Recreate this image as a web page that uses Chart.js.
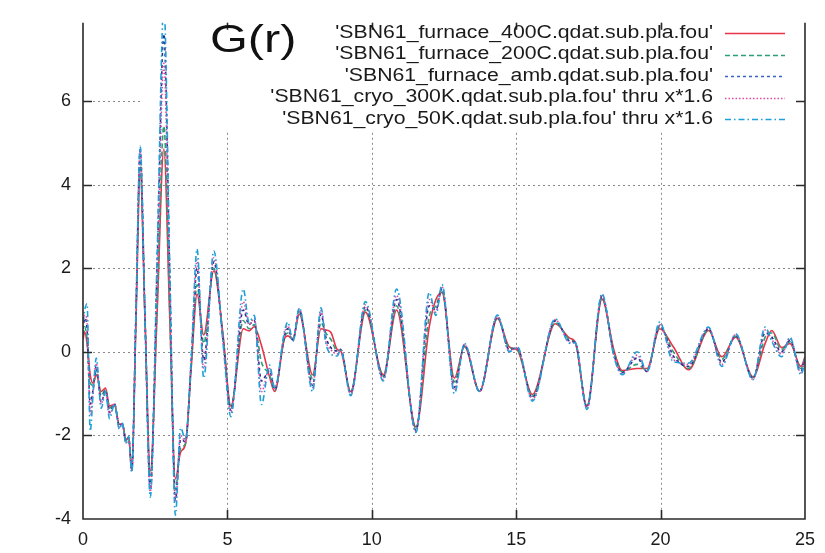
<!DOCTYPE html>
<html>
<head>
<meta charset="utf-8">
<script src="https://cdn.jsdelivr.net/npm/chart.js@4.4.0/dist/chart.umd.min.js"></script>
<style>
  html, body { margin: 0; padding: 0; background: #fff; }
  canvas { display: block; }
</style>
</head>
<body>
<canvas id="gr" width="825" height="553"></canvas>
<script>
// r values (shared by all five curves)
const rValues = [0.00,0.06,0.14,0.25,0.35,0.46,0.63,0.78,0.92,1.09,1.26,1.36,1.49,1.58,1.69,1.835,1.98,2.15,2.33,2.57,
  2.80,3.00,3.20,3.38,3.55,3.75,3.95,4.18,4.53,4.85,5.12,5.55,5.75,5.93,6.18,6.46,6.64,6.98,7.09,7.27,
  7.49,7.95,8.24,8.41,8.58,8.81,8.92,9.27,9.78,10.40,10.86,11.53,11.99,12.22,12.43,12.86,13.21,13.73,14.35,14.76,
  15.04,15.56,16.35,16.87,17.04,17.45,17.97,18.38,18.67,19.19,19.53,19.97,20.44,20.97,21.66,22.12,22.60,23.20,23.62,23.85,
  24.19,24.48,24.86,25.00];

const furnace400 = [0.30,0.48,0.20,-0.55,-0.75,-0.55,-0.95,-0.87,-1.30,-1.26,-1.74,-1.72,-2.10,-2.05,-2.80,0.74,4.28,0.70,-2.85,1.00,
  4.85,0.90,-3.04,-2.40,-2.20,-0.35,1.38,0.40,1.94,0.40,-1.30,0.55,0.50,0.60,0.15,-0.60,-0.95,0.32,0.38,0.30,
  0.90,-0.55,0.55,0.52,0.47,0.05,0.02,-0.95,0.95,-0.55,1.00,-1.80,0.60,1.25,1.42,-0.63,0.12,-0.94,0.80,0.12,
  0.04,-1.02,0.67,0.32,0.24,-1.30,1.26,0.05,-0.45,-0.40,-0.40,0.55,0.12,-0.43,0.51,-0.12,0.35,-0.60,0.20,0.51,
  0.10,0.20,-0.35,-0.12];

const furnace200 = [0.40,0.60,0.30,-0.75,-0.80,-0.45,-1.05,-0.90,-1.35,-1.25,-1.76,-1.72,-2.12,-2.05,-2.82,0.85,4.55,0.72,-3.10,1.15,
  5.40,1.05,-3.30,-2.30,-2.20,-0.30,1.60,0.20,2.00,0.35,-1.35,0.75,0.55,0.65,-0.25,-0.55,-0.92,0.35,0.45,0.30,
  0.95,-0.65,0.70,0.45,0.30,0.02,0.05,-0.97,1.00,-0.58,1.10,-1.84,0.85,1.10,1.48,-0.72,0.14,-0.94,0.82,0.10,
  0.05,-1.06,0.70,0.28,0.22,-1.32,1.30,0.00,-0.48,-0.30,-0.44,0.60,0.00,-0.40,0.53,-0.18,0.37,-0.62,0.35,0.45,
  0.05,0.24,-0.40,-0.15];

const furnaceAmb = [0.55,0.80,0.55,-1.25,-0.90,-0.35,-1.20,-0.93,-1.45,-1.25,-1.78,-1.72,-2.15,-2.05,-2.85,0.98,4.80,0.75,-3.30,2.15,
  7.60,2.00,-3.55,-2.10,-2.15,-0.20,2.00,-0.20,2.15,0.30,-1.40,1.00,0.65,0.75,-0.70,-0.45,-0.90,0.40,0.55,0.28,
  1.00,-0.80,0.90,0.35,0.10,0.02,0.06,-1.00,1.08,-0.62,1.25,-1.88,1.10,1.00,1.52,-0.85,0.16,-0.95,0.84,0.05,
  0.08,-1.10,0.74,0.25,0.22,-1.34,1.34,-0.05,-0.50,-0.15,-0.47,0.63,-0.10,-0.35,0.55,-0.25,0.39,-0.64,0.45,0.35,
  0.00,0.28,-0.45,-0.18];

const cryo300K = [0.60,0.88,0.75,-1.50,-0.92,-0.28,-1.25,-0.95,-1.50,-1.25,-1.80,-1.72,-2.18,-2.05,-2.86,1.00,4.85,0.75,-3.35,1.78,
  6.90,1.65,-3.60,-2.00,-2.15,-0.15,2.20,-0.40,2.25,0.25,-1.45,1.20,0.65,0.80,-0.95,-0.40,-0.88,0.45,0.62,0.27,
  1.02,-0.85,0.98,0.25,0.05,-0.05,0.06,-1.02,1.12,-0.66,1.35,-1.90,1.25,0.95,1.56,-0.92,0.18,-0.95,0.86,0.02,
  0.10,-1.14,0.77,0.22,0.22,-1.36,1.36,-0.08,-0.52,-0.08,-0.47,0.65,-0.18,-0.30,0.57,-0.30,0.41,-0.66,0.52,0.30,
  -0.05,0.32,-0.50,-0.20];

const cryo50K = [0.70,1.00,1.15,-1.90,-1.00,-0.15,-1.35,-0.95,-1.60,-1.25,-1.85,-1.70,-2.20,-2.02,-2.88,1.02,4.92,0.72,-3.48,2.40,
  8.30,2.20,-3.91,-1.82,-2.10,-0.10,2.46,-0.63,2.41,0.20,-1.55,1.50,0.70,0.87,-1.26,-0.32,-0.87,0.50,0.71,0.25,
  1.05,-0.95,1.05,0.20,-0.05,-0.10,0.05,-1.05,1.20,-0.70,1.50,-1.93,1.42,0.87,1.61,-1.00,0.20,-0.95,0.88,0.00,
  0.12,-1.18,0.79,0.20,0.22,-1.38,1.39,-0.10,-0.55,0.00,-0.47,0.71,-0.24,-0.27,0.59,-0.35,0.43,-0.67,0.59,0.25,
  -0.12,0.35,-0.55,-0.22];

const seriesLabels = [
  "'SBN61_furnace_400C.qdat.sub.pla.fou'",
  "'SBN61_furnace_200C.qdat.sub.pla.fou'",
  "'SBN61_furnace_amb.qdat.sub.pla.fou'",
  "'SBN61_cryo_300K.qdat.sub.pla.fou' thru x*1.6",
  "'SBN61_cryo_50K.qdat.sub.pla.fou' thru x*1.6"
];
const xTicks = [0, 5, 10, 15, 20, 25];
const yTicks = [-4, -2, 0, 2, 4, 6];
const titleText = "G(r)";

// line styles, gnuplot-ish
const lineColors = ["#e8334a", "#2e9e78", "#22308f", "#e04aa0", "#1fa0d8"];
const keyColors = ["#e8334a", "#2e9e78", "#3a62c8", "#e04aa0", "#1fa0d8"];
const lineDashes = [[], [5, 3], [3, 3], [1.5, 2], [6, 3, 1.5, 3]];

const FONT = "'Liberation Sans', Arial, Helvetica, sans-serif";

function pts(arr) {
  return rValues.map((r, i) => ({ x: r, y: arr[i] }));
}

function mkSet(i, arr) {
  return {
    label: seriesLabels[i],
    data: pts(arr),
    borderColor: lineColors[i],
    borderDash: lineDashes[i],
    borderWidth: 1.6,
    pointRadius: 0,
    fill: false,
    cubicInterpolationMode: "monotone",
    order: 5 - i
  };
}

// stretched text, the scan is a bit wider than the font
function wideText(ctx, txt, x, y, sx, align) {
  ctx.save();
  const w = ctx.measureText(txt).width * sx;
  let x0 = x;
  if (align === "right") x0 = x - w;
  ctx.translate(x0, y);
  ctx.scale(sx, 1);
  ctx.textAlign = "left";
  ctx.fillText(txt, 0, 0);
  ctx.restore();
}

const keyBox = { left: 140, bottom: 130 };

const gridPlugin = {
  id: "gnuGrid",
  beforeDatasetsDraw(chart) {
    const { ctx, chartArea: a, scales } = chart;
    ctx.save();
    ctx.beginPath();
    ctx.rect(a.left, a.top, a.right - a.left, a.bottom - a.top);
    ctx.rect(keyBox.left, 0, a.right - keyBox.left, keyBox.bottom);
    ctx.clip("evenodd");
    ctx.strokeStyle = "#8a8a8a";
    ctx.lineWidth = 1;
    ctx.setLineDash([2, 3]);
    xTicks.slice(1, -1).forEach(v => {
      const px = Math.round(scales.x.getPixelForValue(v)) + 0.5;
      ctx.beginPath(); ctx.moveTo(px, a.top); ctx.lineTo(px, a.bottom); ctx.stroke();
    });
    yTicks.slice(1).forEach(v => {
      const py = Math.round(scales.y.getPixelForValue(v)) + 0.5;
      ctx.beginPath(); ctx.moveTo(a.left, py); ctx.lineTo(a.right, py); ctx.stroke();
    });
    ctx.restore();
  },
  afterDatasetsDraw(chart) {
    const { ctx, chartArea: a, scales } = chart;
    ctx.save();
    ctx.strokeStyle = "#2a2a2a";
    ctx.lineWidth = 1.6;
    ctx.setLineDash([]);
    ctx.beginPath();
    ctx.moveTo(a.left, a.top); ctx.lineTo(a.left, a.bottom); ctx.lineTo(a.right, a.bottom); ctx.lineTo(a.right, a.top);
    ctx.stroke();
    const t = 9;
    ctx.beginPath();
    yTicks.slice(1).forEach(v => {
      const py = Math.round(scales.y.getPixelForValue(v)) + 0.5;
      ctx.moveTo(a.left, py); ctx.lineTo(a.left + t, py);
      ctx.moveTo(a.right, py); ctx.lineTo(a.right - t, py);
    });
    xTicks.slice(1, -1).forEach(v => {
      const px = Math.round(scales.x.getPixelForValue(v)) + 0.5;
      ctx.moveTo(px, a.bottom); ctx.lineTo(px, a.bottom - t);
      ctx.moveTo(px, a.top); ctx.lineTo(px, a.top + 7);
    });
    ctx.stroke();

    // key
    ctx.font = "18px " + FONT;
    ctx.fillStyle = "#1a1a1a";
    ctx.textBaseline = "middle";
    seriesLabels.forEach((lbl, i) => {
      const y = 33 + i * 21.5;
      wideText(ctx, lbl, 713, y, 1.18, "right");
      ctx.save();
      ctx.strokeStyle = keyColors[i];
      ctx.lineWidth = 1.4;
      ctx.setLineDash(lineDashes[i]);
      ctx.beginPath(); ctx.moveTo(725, Math.round(y) + 0.5); ctx.lineTo(785, Math.round(y) + 0.5); ctx.stroke();
      ctx.restore();
    });

    // title label
    ctx.font = "38px " + FONT;
    ctx.fillStyle = "#111";
    ctx.textBaseline = "alphabetic";
    wideText(ctx, titleText, 210, 52, 1.28, "left");
    ctx.restore();
  }
};

new Chart(document.getElementById("gr"), {
  type: "line",
  data: {
    datasets: [
      mkSet(0, furnace400),
      mkSet(1, furnace200),
      mkSet(2, furnaceAmb),
      mkSet(3, cryo300K),
      mkSet(4, cryo50K)
    ]
  },
  options: {
    responsive: false,
    animation: false,
    devicePixelRatio: 1,
    layout: { padding: { left: 0, right: 16, top: 17, bottom: 0 } },
    plugins: { legend: { display: false }, tooltip: { enabled: false }, title: { display: false } },
    scales: {
      x: {
        type: "linear",
        min: 0, max: 25,
        afterFit: s => { s.height = 34; },
        afterBuildTicks: s => { s.ticks = xTicks.map(v => ({ value: v })); },
        grid: { display: false, drawTicks: false },
        border: { display: false },
        ticks: { font: { size: 18, family: FONT }, color: "#1a1a1a", padding: 10, maxRotation: 0 }
      },
      y: {
        min: -4, max: 7.87,
        afterFit: s => { s.width = 83; },
        afterBuildTicks: s => { s.ticks = yTicks.map(v => ({ value: v })); },
        grid: { display: false, drawTicks: false },
        border: { display: false },
        ticks: { font: { size: 18, family: FONT }, color: "#1a1a1a", padding: 12 }
      }
    }
  },
  plugins: [gridPlugin]
});
</script>
</body>
</html>
